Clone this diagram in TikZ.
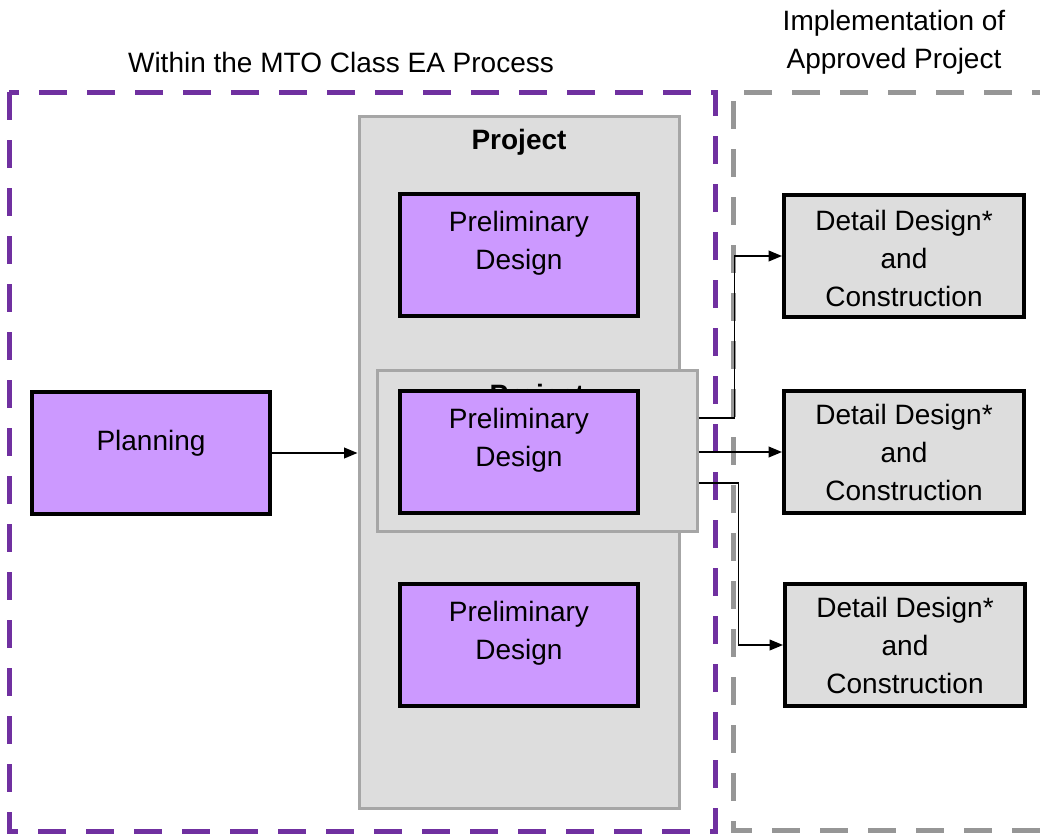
\documentclass[tikz,border=0pt]{standalone}
\usepackage{fontspec}
\setmainfont{Liberation Sans}
\usetikzlibrary{arrows.meta,calc}
\definecolor{pfill}{HTML}{CC99FF}
\definecolor{gfill}{HTML}{DDDDDD}
\definecolor{gline}{HTML}{A6A6A6}
\definecolor{pdash}{HTML}{7030A0}
\definecolor{gdash}{HTML}{969696}
\begin{document}
\begin{tikzpicture}[x=0.75pt,y=-0.75pt,
  txt/.style={font=\fontsize{21}{28.5}\selectfont, align=center, inner sep=0pt},
  pbox/.style={draw=black, line width=3pt, fill=pfill, minimum width=179pt, minimum height=92pt, inner sep=0pt},
  dbox/.style={draw=black, line width=3pt, fill=gfill, minimum width=180pt, minimum height=92pt, inner sep=0pt},
  gbox/.style={draw=gline, line width=2.25pt, fill=gfill, inner sep=0pt},
  arr/.style={line width=1.1pt, -{Triangle[length=10pt,width=8pt]}},
  dsh/.style={line width=3.75pt, dash pattern=on 21pt off 15pt}]
\useasboundingbox (0,0) rectangle (1040,835);
% region labels
\node[txt] (t1) at (341,62) {Within the MTO Class EA Process};
\node[txt] (t2) at (894,42) {Implementation of\\Approved Project};
% dashed regions
\coordinate (g1) at (1060,92);
\coordinate (g2) at (733,92);
\coordinate (g3) at (733,830);
\coordinate (g4) at (1060,830);
\draw[dsh, draw=gdash] (g1) -- (g2) -- (g3) -- (g4);
\coordinate (p1) at (9,92);
\coordinate (p2) at (715,831);
\draw[dsh, draw=pdash] (p1) rectangle (p2);
% project box
\node[gbox, minimum width=240pt, minimum height=519pt] (proj) at (519,462.5) {};
\node[txt, font=\fontsize{21}{28.5}\selectfont\bfseries] (projt) at (519,142) {Project};
\node[pbox] (pd1) at (519,255) {};
\node[txt] (pd1t) at ($(pd1)+(0,-12)$) {Preliminary\\Design};
\node[pbox] (pd3) at (519,645) {};
\node[txt] (pd3t) at ($(pd3)+(0,-12)$) {Preliminary\\Design};
% overlay project box
\node[gbox, minimum width=240pt, minimum height=121pt] (ov) at (537,451) {};
\node[txt, font=\fontsize{21}{28.5}\selectfont\bfseries] (ovt) at ($(ov.north)+(0,28)$) {Project};
\node[pbox] (pd2) at (519,452) {};
\node[txt] (pd2t) at ($(pd2)+(0,-12)$) {Preliminary\\Design};
% planning
\node[pbox] (pl) at (151,453) {};
\node[txt] (plt) at ($(pl)+(0,-10)$) {Planning};
% detail boxes
\node[dbox] (d1) at (904,256) {};
\node[txt] (d1t) at ($(d1)+(0,2)$) {Detail Design*\\and\\Construction};
\node[dbox] (d2) at (904,452) {};
\node[txt] (d2t) at ($(d2)+(0,0)$) {Detail Design*\\and\\Construction};
\node[dbox] (d3) at (905,645) {};
\node[txt] (d3t) at ($(d3)+(0,0)$) {Detail Design*\\and\\Construction};
% connectors
\draw[arr] (pl.east) -- (pl.east -| proj.west);
\draw[arr] ($(ov.east)+(0,-33)$) -- ++(36,0) |- (d1.west);
\draw[arr] (ov.east |- d2.west) -- (d2.west);
\draw[arr] ($(ov.east)+(0,32)$) -- ++(40,0) |- (d3.west);
\end{tikzpicture}
\end{document}
